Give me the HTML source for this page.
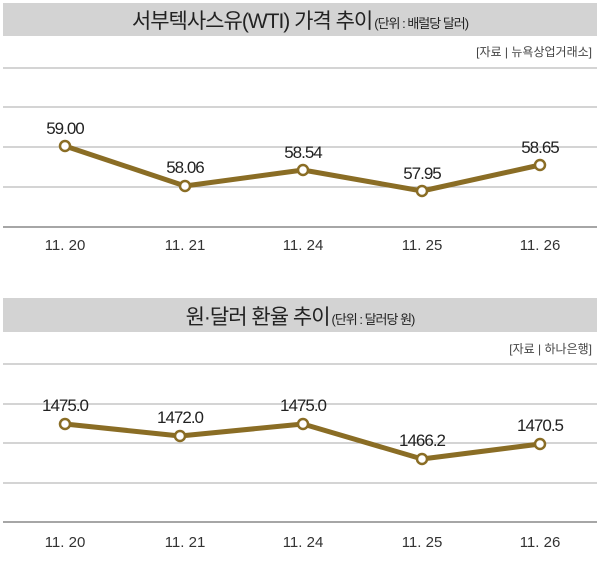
<!DOCTYPE html>
<html><head><meta charset="utf-8"><style>
body{margin:0;background:#fff;}
svg text{font-family:"Liberation Sans","Noto Sans CJK KR",sans-serif;}
</style></head><body>
<svg width="600" height="568" viewBox="0 0 600 568" xmlns="http://www.w3.org/2000/svg">
<rect x="3" y="3" width="594" height="33" fill="#d3d3d3"/>
<text x="300" y="28" text-anchor="middle" font-size="21" fill="#222" letter-spacing="-1"><tspan>서부텍사스유(WTI) 가격 추이</tspan><tspan font-size="13" dx="2">(단위 : 배럴당 달러)</tspan></text>
<text x="592" y="56" text-anchor="end" font-size="12" fill="#444">[자료 | 뉴욕상업거래소]</text>
<g stroke="#bbb" stroke-width="1.2">
<line x1="3" y1="68" x2="597" y2="68"/><line x1="3" y1="107" x2="597" y2="107"/><line x1="3" y1="147" x2="597" y2="147"/><line x1="3" y1="187" x2="597" y2="187"/>
</g>
<line x1="3" y1="227" x2="597" y2="227" stroke="#888" stroke-width="1.5"/>
<polyline points="65,146 185,186 303,170 422,191 540,165" fill="none" stroke="#8a6d25" stroke-width="5" stroke-linejoin="round"/>
<g fill="#fff" stroke="#8a6d25" stroke-width="2.5">
<circle cx="65" cy="146" r="5"/><circle cx="185" cy="186" r="5"/><circle cx="303" cy="170" r="5"/><circle cx="422" cy="191" r="5"/><circle cx="540" cy="165" r="5"/>
</g>
<g font-size="17" fill="#222" text-anchor="middle" letter-spacing="-1">
<text x="65" y="134">59.00</text><text x="185" y="173">58.06</text><text x="303" y="158">58.54</text><text x="422" y="179">57.95</text><text x="540" y="153">58.65</text>
</g>
<g font-size="15" fill="#333" text-anchor="middle">
<text x="65" y="250">11. 20</text><text x="185" y="250">11. 21</text><text x="303" y="250">11. 24</text><text x="422" y="250">11. 25</text><text x="540" y="250">11. 26</text>
</g>

<rect x="3" y="298" width="594" height="34" fill="#d3d3d3"/>
<text x="300" y="324" text-anchor="middle" font-size="21" fill="#222" letter-spacing="-1"><tspan>원·달러 환율 추이</tspan><tspan font-size="13" dx="2">(단위 : 달러당 원)</tspan></text>
<text x="592" y="353" text-anchor="end" font-size="12" fill="#444">[자료 | 하나은행]</text>
<g stroke="#bbb" stroke-width="1.2">
<line x1="3" y1="364" x2="597" y2="364"/><line x1="3" y1="404" x2="597" y2="404"/><line x1="3" y1="443" x2="597" y2="443"/><line x1="3" y1="483" x2="597" y2="483"/>
</g>
<line x1="3" y1="522" x2="597" y2="522" stroke="#888" stroke-width="1.5"/>
<polyline points="65,424 180,436 303,424 422,459 540,444" fill="none" stroke="#8a6d25" stroke-width="5" stroke-linejoin="round"/>
<g fill="#fff" stroke="#8a6d25" stroke-width="2.5">
<circle cx="65" cy="424" r="5"/><circle cx="180" cy="436" r="5"/><circle cx="303" cy="424" r="5"/><circle cx="422" cy="459" r="5"/><circle cx="540" cy="444" r="5"/>
</g>
<g font-size="17" fill="#222" text-anchor="middle" letter-spacing="-1">
<text x="65" y="411">1475.0</text><text x="180" y="423">1472.0</text><text x="303" y="411">1475.0</text><text x="422" y="446">1466.2</text><text x="540" y="431">1470.5</text>
</g>
<g font-size="15" fill="#333" text-anchor="middle">
<text x="65" y="547">11. 20</text><text x="185" y="547">11. 21</text><text x="303" y="547">11. 24</text><text x="422" y="547">11. 25</text><text x="540" y="547">11. 26</text>
</g>
</svg>
</body></html>
